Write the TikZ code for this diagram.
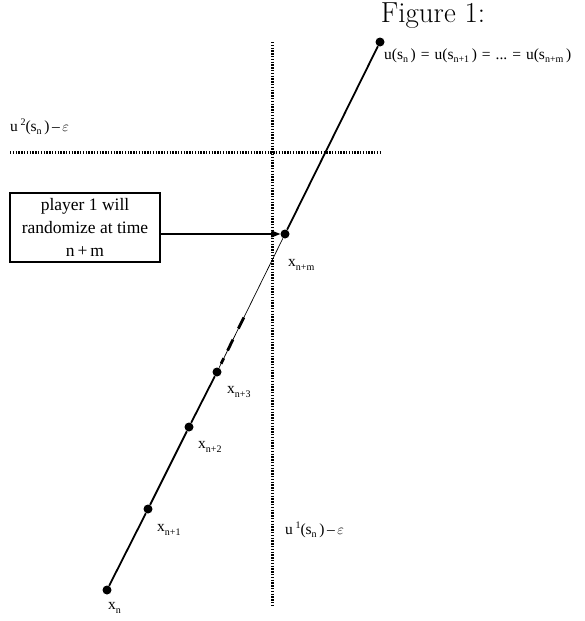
\documentclass[tikz,border=0pt]{standalone}
\usepackage{fontspec}
\setmainfont{Liberation Serif}
\newfontfamily\cmfont{Latin Modern Roman}
\usetikzlibrary{calc,arrows.meta}
\newcommand{\sbs}[1]{\raisebox{-0.45ex}{\fontsize{10}{10}\selectfont #1}}
\newcommand{\sps}[1]{\raisebox{0.75ex}{\fontsize{10}{10}\selectfont #1}}
\newcommand{\eqs}{\hspace{5pt}=\hspace{5pt}}
\begin{document}
\begin{tikzpicture}[x=1pt,y=-1pt,
  dot/.style={circle,fill=black,inner sep=0pt,minimum size=9pt},
  mainline/.style={line width=1.8pt},
  thinline/.style={line width=0.7pt},
  dashseg/.style={line width=2.8pt},
  dotline/.style={line width=3pt,dash pattern=on 1.4pt off 1.4pt},
  lbl/.style={font=\fontsize{15.5}{17}\selectfont,inner sep=0pt},
  boxnode/.style={draw,line width=1.1pt,minimum width=150pt,minimum height=69pt,align=center,font=\fontsize{17.5}{23}\selectfont,inner sep=2pt}]
\useasboundingbox (0,0) rectangle (585,621);
% dotted reference lines
\coordinate (vtop) at (272,42);
\coordinate (vbot) at (272,605);
\coordinate (hl) at (10,152);
\coordinate (hr) at (382,152);
\draw[dotline] (vtop) -- (vbot);
\draw[dotline] (hl) -- (hr);
% points
\node[dot] (xn) at (107,590) {};
\node[dot] (x1) at (148,509) {};
\node[dot] (x2) at (189,427) {};
\node[dot] (x3) at (217,372) {};
\node[dot] (xm) at (285,234) {};
\node[dot] (top) at (380,42) {};
% path
\draw[mainline] (xn) -- (x1) -- (x2) -- (x3);
\draw[thinline] (x3) -- (xm);
\draw[dashseg] ($(x3)!0.06!(xm)$) -- ($(x3)!0.10!(xm)$);
\draw[dashseg] ($(x3)!0.155!(xm)$) -- ($(x3)!0.235!(xm)$);
\draw[dashseg] ($(x3)!0.315!(xm)$) -- ($(x3)!0.395!(xm)$);
\draw[mainline] (xm) -- (top);
% box and arrow
\node[boxnode] (box) at (85,227.5) {player 1 will\\randomize at time\\n\,+\,m};
\draw[line width=1.1pt,-{Triangle[length=9pt,width=7pt]}] (box.east |- xm) -- (xm.west);
% labels
\node[font=\cmfont\fontsize{29}{34}\selectfont,inner sep=0pt] (fig) at (433,16) {Figure 1:};
\node[lbl,anchor=west] (ulab) at (384,56) {u(s\sbs{n}\,)\eqs u(s\sbs{n+1}\,)\eqs ...\eqs u(s\sbs{n+m}\,)};
\node[lbl,anchor=west] (u2) at (10,127) {u\,\sps{2}(s\sbs{n}\,)\,--\,$\varepsilon$};
\node[lbl,anchor=west] (u1) at (285,530) {u\,\sps{1}(s\sbs{n}\,)\,--\,$\varepsilon$};
\node[lbl,anchor=west] (lm) at (288,265) {x\sbs{n+m}};
\node[lbl,anchor=west] (l3) at (227,392) {x\sbs{n+3}};
\node[lbl,anchor=west] (l2) at (198,447) {x\sbs{n+2}};
\node[lbl,anchor=west] (l1) at (157,530) {x\sbs{n+1}};
\node[lbl,anchor=west] (l0) at (108,608) {x\sbs{n}};
\end{tikzpicture}
\end{document}
